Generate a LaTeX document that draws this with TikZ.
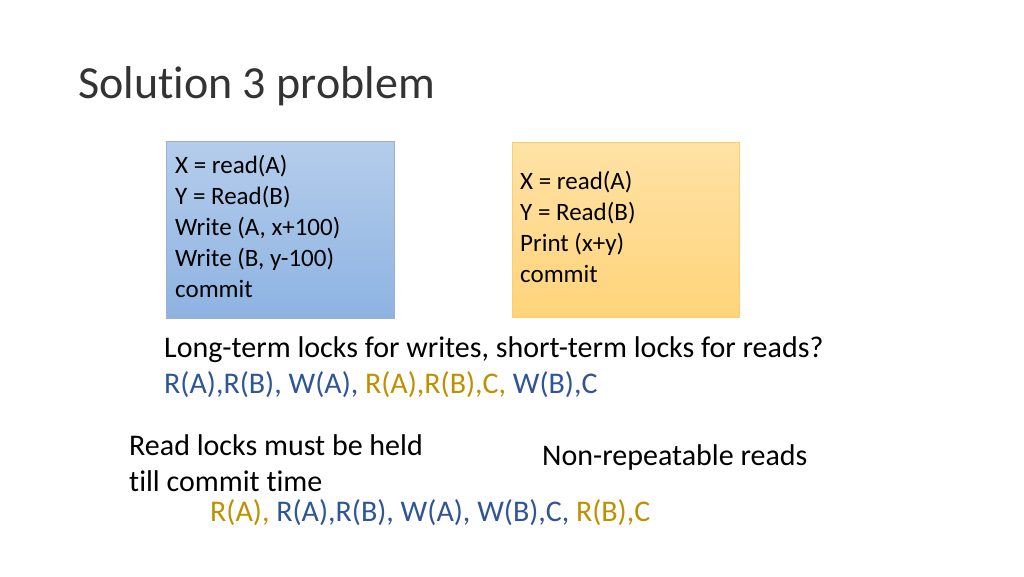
\documentclass[tikz,border=0pt]{standalone}
\usepackage{fontspec}
\setmainfont[Ligatures=NoCommon]{Carlito}
\definecolor{tblue}{HTML}{2F5597}
\definecolor{tgold}{HTML}{BF9000}
\definecolor{bluetop}{HTML}{B5CDEB}
\definecolor{bluebot}{HTML}{8DB3E2}
\definecolor{orgtop}{HTML}{FFE2A6}
\definecolor{orgbot}{HTML}{FFD47A}
\tikzset{
  boxtext/.style={align=left, anchor=north west, font=\fontsize{25}{31}\selectfont, inner sep=0pt},
  big/.style={anchor=west, font=\fontsize{30}{34}\selectfont, inner sep=0pt},
}
\begin{document}
\begin{tikzpicture}[x=1pt,y=-1pt]
\useasboundingbox (0,0) rectangle (1024,576);
\node[anchor=west, font=\fontsize{46}{52}\selectfont, text=black!80, inner sep=0pt] (title) at (78,86) {Solution 3 problem};
\node[draw=bluebot!80!black!70, top color=bluetop, bottom color=bluebot, minimum width=228pt, minimum height=177pt, anchor=north west, inner sep=0pt] (b1) at (166,141) {};
\node[boxtext] (t1) at (175,155) {X = read(A)\\Y = Read(B)\\Write (A, x+100)\\Write (B, y-100)\\commit};
\node[draw=orgbot!90!orange, top color=orgtop, bottom color=orgbot, minimum width=227pt, minimum height=175pt, anchor=north west, inner sep=0pt] (b2) at (512,142) {};
\node[boxtext] (t2) at (520,171) {X = read(A)\\Y = Read(B)\\Print (x+y)\\commit};
\node[big] (l1) at (164,350) {Long-term locks for writes, short-term locks for reads?};
\node[big] (l2) at (164,385) {\textcolor{tblue}{R(A),R(B), W(A),} \textcolor{tgold}{R(A),R(B),C,} \textcolor{tblue}{W(B),C}};
\node[big] (l3) at (129,445) {Read locks must be held};
\node[big] (l4) at (129,481) {till commit time};
\node[big] (l5) at (542,457) {Non-repeatable reads};
\node[big] (l6) at (210,513) {\textcolor{tgold}{R(A),} \textcolor{tblue}{R(A),R(B), W(A), W(B),C,} \textcolor{tgold}{R(B),C}};
\end{tikzpicture}
\end{document}
